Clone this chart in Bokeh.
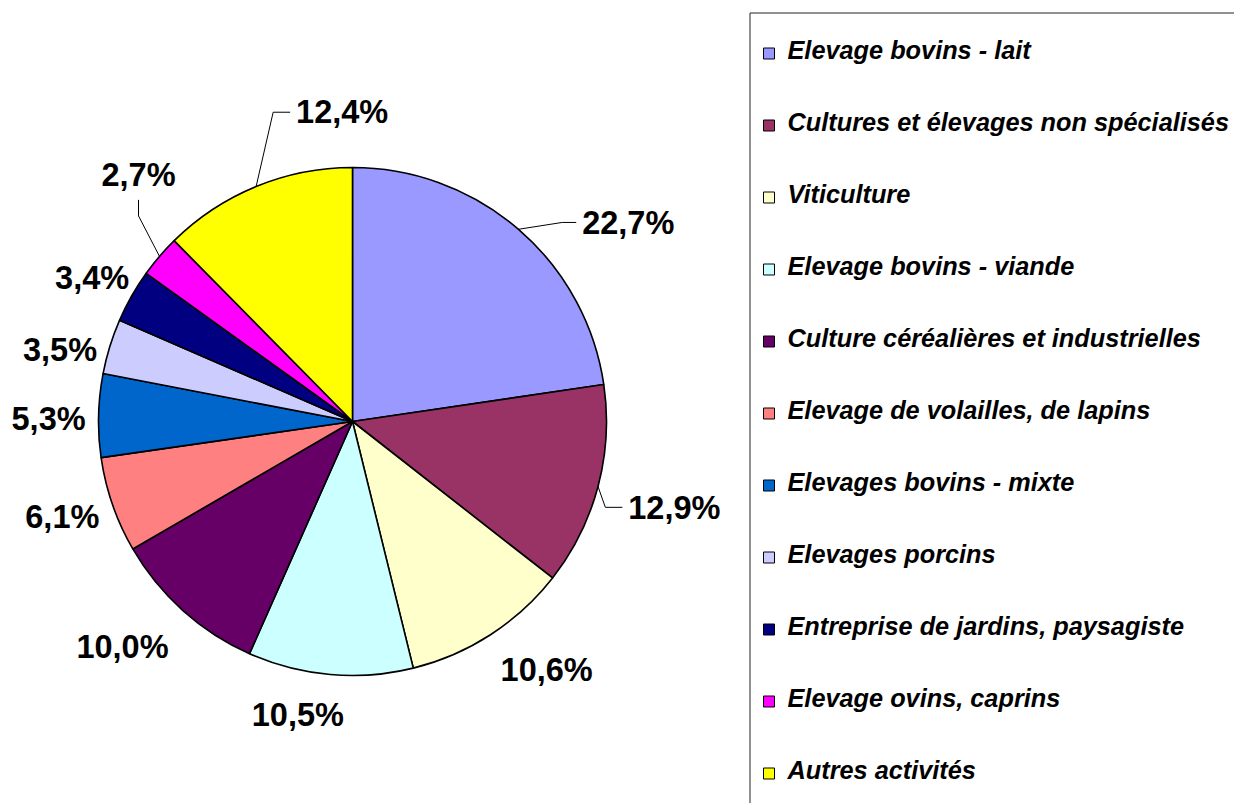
import numpy as np
from bokeh.plotting import figure
from bokeh.models import Range1d, ColumnDataSource
from bokeh.core.properties import value
from bokeh.embed import file_html
from bokeh.resources import INLINE

# ---------------- data ----------------
categories = [
    "Elevage bovins - lait",
    "Cultures et élevages non spécialisés",
    "Viticulture",
    "Elevage bovins - viande",
    "Culture céréalières et industrielles",
    "Elevage de volailles, de lapins",
    "Elevages bovins - mixte",
    "Elevages porcins",
    "Entreprise de jardins, paysagiste",
    "Elevage ovins, caprins",
    "Autres activités",
]
shares = [22.7, 12.9, 10.6, 10.5, 10.0, 6.1, 5.3, 3.5, 3.4, 2.7, 12.4]
share_labels = ["22,7%", "12,9%", "10,6%", "10,5%", "10,0%", "6,1%",
                "5,3%", "3,5%", "3,4%", "2,7%", "12,4%"]
colors = ["#9999FF", "#993366", "#FFFFCC", "#CCFFFF", "#660066", "#FF8080",
          "#0066CC", "#CCCCFF", "#000080", "#FF00FF", "#FFFF00"]

# ---------------- layout ----------------
W, H = 1234, 803


def X(px):
    return px


def Y(py):
    return H - py


CX, CY, R = X(352), Y(421), 254
LABEL_DIST = R + 50
# label nudges (px, y downwards) from default mid-angle position
nudges = [(77, 33), (28, 10), (29, -5), (-28, -8), (-27, 1), (-3, -3),
          (0, 6), (-2, 20), (4, 8), (17, -47), (105, -27)]
# leader lines: index -> (elbow offset, end offset) from label centre (px, y down)
leaders = {
    0: ((-66, -2), (-52, -2)),
    1: ((-69, -2), (-52, -2)),
    9: ((0, 39), (0, 23)),
    10: ((-69, -1), (-52, -1)),
}

vals = np.array(shares, dtype=float)
total = vals.sum()
cum = np.cumsum(vals)
start_frac = (cum - vals) / total
end_frac = cum / total
th_start = np.pi / 2 - 2 * np.pi * start_frac
th_end = np.pi / 2 - 2 * np.pi * end_frac
mid = (th_start + th_end) / 2

p = figure(width=W, height=H, x_range=Range1d(0, W), y_range=Range1d(0, H),
           output_backend="svg", toolbar_location=None, min_border=0,
           x_axis_location=None, y_axis_location=None)
p.grid.visible = False
p.outline_line_color = None
p.background_fill_color = "white"
p.border_fill_color = "white"

src = ColumnDataSource(dict(start=th_end, end=th_start, color=colors))
p.wedge(x=CX, y=CY, radius=R, start_angle="start", end_angle="end",
        direction="anticlock", fill_color="color", line_color="black",
        line_width=1.6, source=src)

# labels (anchor = visual centre of the text)
cx_lab = CX + LABEL_DIST * np.cos(mid) + np.array([n[0] for n in nudges])
cy_lab = CY + LABEL_DIST * np.sin(mid) - np.array([n[1] for n in nudges])
p.text(x=cx_lab, y=cy_lab + 1.5, text=share_labels, text_align="center",
       text_baseline="middle", text_font=value("Liberation Sans"),
       text_font_style="bold", text_font_size="32.5px", text_color="black")

xs, ys = [], []
for i, (elb, end) in leaders.items():
    ex, ey = CX + R * np.cos(mid[i]), CY + R * np.sin(mid[i])
    bx, by = cx_lab[i] + elb[0], cy_lab[i] - elb[1]
    fx, fy = cx_lab[i] + end[0], cy_lab[i] - end[1]
    xs.append([ex, bx, fx])
    ys.append([ey, by, fy])
p.multi_line(xs=xs, ys=ys, line_color="black", line_width=1)

# legend
n = len(categories)
row_y = np.array([Y(53 + 72 * i) for i in range(n)])
p.rect(x=X(768.5), y=row_y, width=11, height=11, fill_color=colors,
       line_color="black", line_width=1)
p.text(x=X(787), y=row_y + 4, text=categories, text_align="left",
       text_baseline="middle", text_font=value("Liberation Sans"),
       text_font_style="bold italic", text_font_size="25.3px", text_color="black")

bx0 = X(749) + 0.5
by0 = Y(12) - 0.5
p.line(x=[bx0, bx0, W + 10], y=[-10, by0, by0], line_color="#222222", line_width=1)

open("out.html", "w").write(file_html(p, INLINE))
